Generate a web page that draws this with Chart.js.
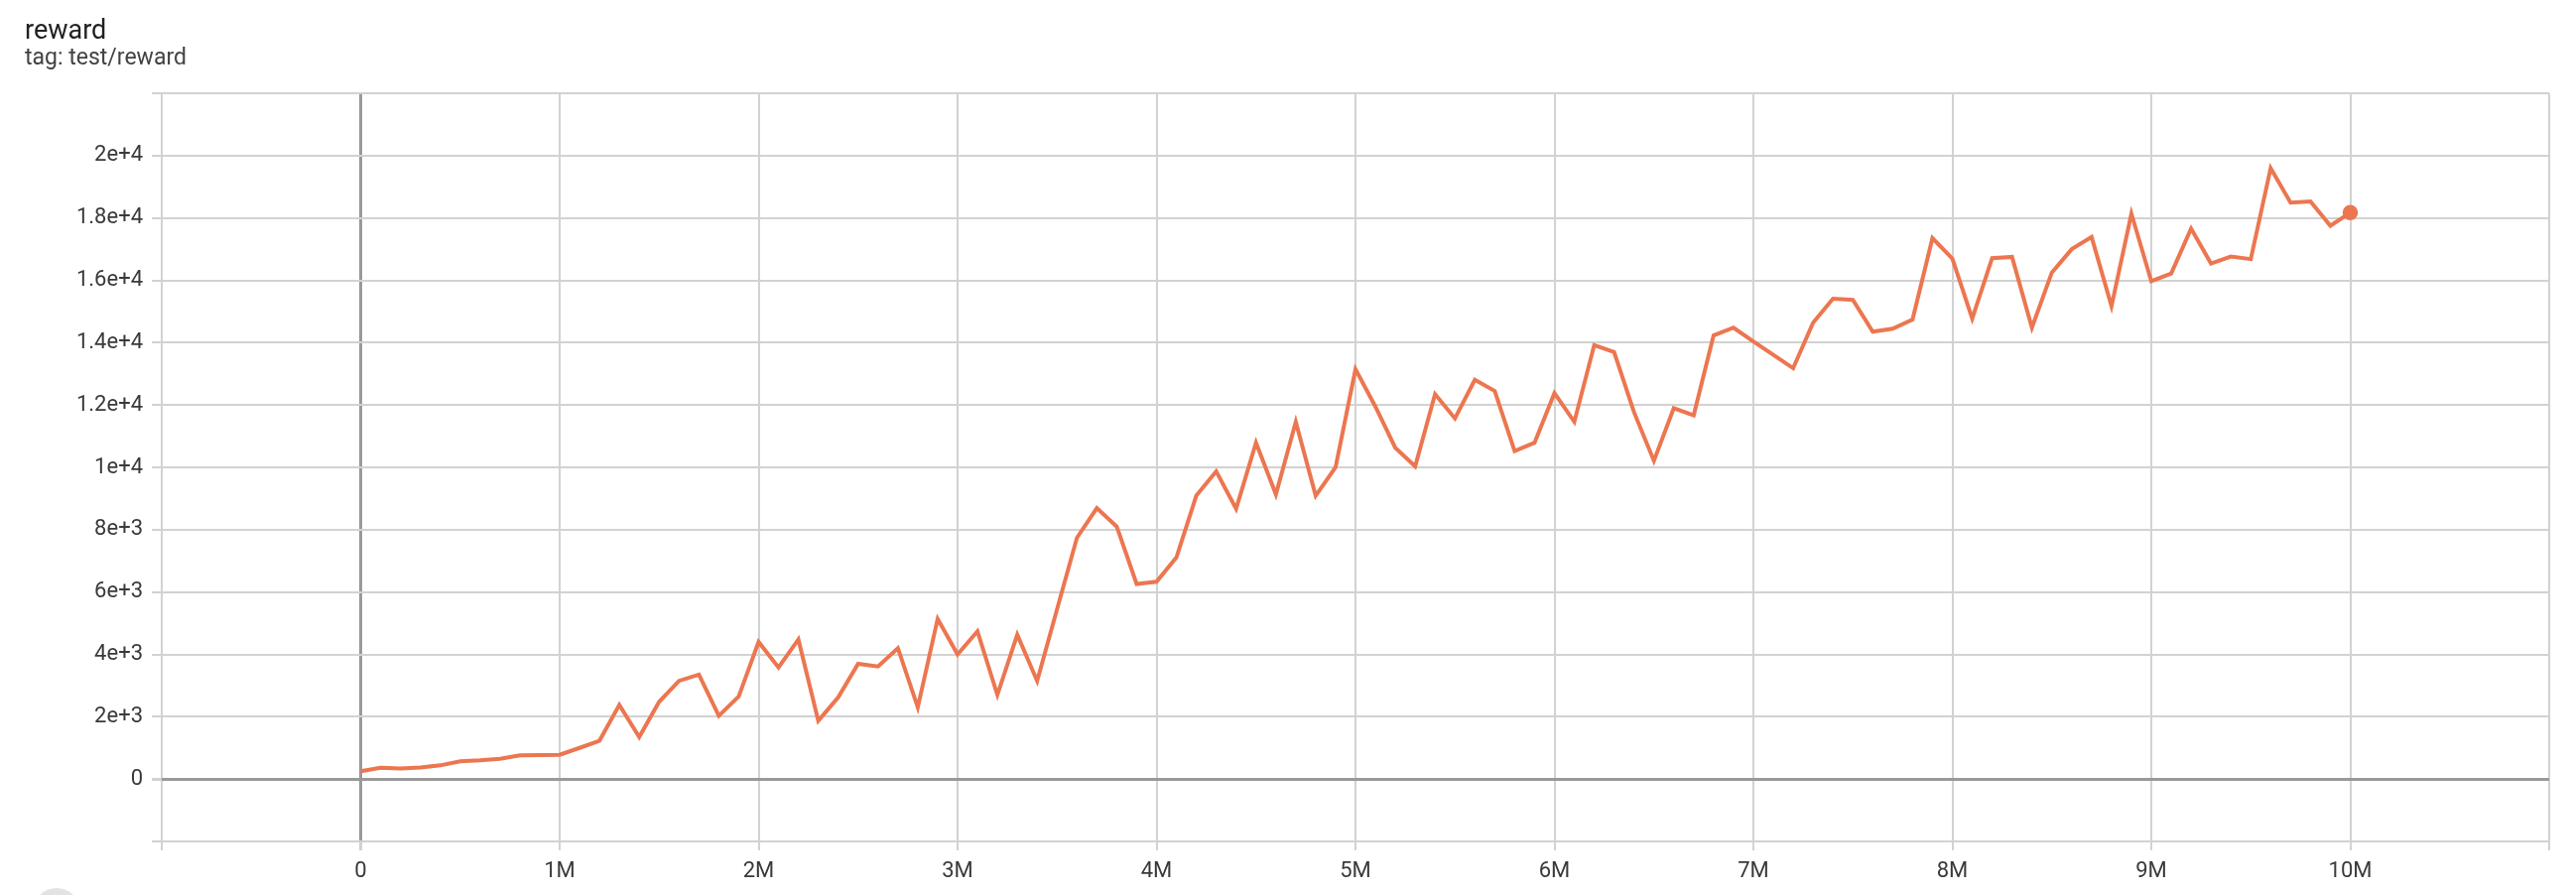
<!DOCTYPE html>
<html>
<head>
<meta charset="utf-8">
<title>reward</title>
<script src="https://cdn.jsdelivr.net/npm/chart.js@4.4.1/dist/chart.umd.min.js"></script>
<style>
  html, body { margin: 0; padding: 0; background: #fff; overflow: hidden; }
  #wrap { position: relative; width: 2596px; height: 902px; }
  #chart { position: absolute; left: 0; top: 0; }
  .title { position: absolute; left: 25px; top: 17px; font: 27px Roboto, sans-serif; line-height: 1; color: #212121; }
  .tag { position: absolute; left: 25px; top: 46px; font: 23px Roboto, sans-serif; line-height: 1; color: #424242; }
  .fab { position: absolute; left: 33px; top: 895px; width: 48px; height: 48px; border-radius: 50%; background: #e3e3e3; }
</style>
</head>
<body>
<div id="wrap">
  <canvas id="chart" width="2596" height="902"></canvas>
  <div class="title">reward</div>
  <div class="tag">tag: test/reward</div>
  <div class="fab"></div>
</div>
<script>
// training steps, in thousands
const steps = [
  0, 100, 200, 300, 400, 500, 600, 700, 800, 900,
  1000, 1100, 1200, 1300, 1400, 1500, 1600, 1700, 1800, 1900,
  2000, 2100, 2200, 2300, 2400, 2500, 2600, 2700, 2800, 2900,
  3000, 3100, 3200, 3300, 3400, 3500, 3600, 3700, 3800, 3900,
  4000, 4100, 4200, 4300, 4400, 4500, 4600, 4700, 4800, 4900,
  5000, 5100, 5200, 5300, 5400, 5500, 5600, 5700, 5800, 5900,
  6000, 6100, 6200, 6300, 6400, 6500, 6600, 6700, 6800, 6900,
  7000, 7100, 7200, 7300, 7400, 7500, 7600, 7700, 7800, 7900,
  8000, 8100, 8200, 8300, 8400, 8500, 8600, 8700, 8800, 8900,
  9000, 9100, 9200, 9300, 9400, 9500, 9600, 9700, 9800, 9900,
  10000
];

// test/reward values
const reward = [
  250, 360, 340, 370, 440, 570, 600, 650, 760, 770,
  780, 1000, 1230, 2380, 1350, 2480, 3150, 3350, 2030, 2650,
  4400, 3580, 4480, 1870, 2620, 3700, 3610, 4200, 2300, 5140,
  4000, 4740, 2700, 4630, 3150, 5450, 7740, 8690, 8100, 6260,
  6330, 7110, 9090, 9870, 8670, 10790, 9130, 11460, 9090, 10000,
  13150, 11950, 10630, 10030, 12350, 11570, 12810, 12450, 10520, 10790,
  12380, 11460, 13920, 13700, 11770, 10210, 11900, 11670, 14230, 14480,
  14040, 13610, 13180, 14640, 15410, 15370, 14350, 14450, 14740, 17350,
  16700, 14770, 16710, 16750, 14480, 16250, 17000, 17390, 15170, 18140,
  15970, 16220, 17660, 16540, 16760, 16680, 19600, 18490, 18530, 17750,
  18170
];

// axis ranges / tick spacing
const xRange = [-1000000, 11000000];
const xStep = 1000000;
const yRange = [-2000, 22000];
const yStep = 2000;

const lineColor = '#ec7650';
const gridColor = '#d2d2d2';
const zeroColor = '#999999';
const labelFont = { family: 'Roboto', size: 22 };

const points = steps.map((s, i) => ({ x: s * 1000, y: reward[i] }));
const lastIdx = points.length - 1;

function xLabel(v) {
  if (v <= xRange[0] || v >= xRange[1]) return '';
  if (v === 0) return '0';
  return (v / 1000000) + 'M';
}

function yLabel(v) {
  if (v <= yRange[0] || v >= yRange[1]) return '';
  if (v === 0) return '0';
  return Number(v).toExponential();
}

const ctx = document.getElementById('chart').getContext('2d');
new Chart(ctx, {
  type: 'line',
  data: {
    datasets: [{
      label: 'test/reward',
      data: points,
      borderColor: lineColor,
      backgroundColor: lineColor,
      borderWidth: 4,
      tension: 0,
      fill: false,
      pointRadius: c => c.dataIndex === lastIdx ? 7 : 0,
      pointHoverRadius: 0,
      pointBorderWidth: 1.5,
      pointBackgroundColor: lineColor,
      pointBorderColor: lineColor
    }]
  },
  options: {
    responsive: false,
    animation: false,
    events: [],
    layout: { padding: { top: 94, right: 27, left: 0, bottom: 0 } },
    plugins: {
      legend: { display: false },
      tooltip: { enabled: false }
    },
    scales: {
      x: {
        type: 'linear',
        min: xRange[0],
        max: xRange[1],
        afterFit: s => { s.height = 54; },
        border: { display: false },
        grid: {
          color: c => c.tick && c.tick.value === 0 ? zeroColor : gridColor,
          lineWidth: c => c.tick && c.tick.value === 0 ? 3 : 2,
          tickColor: gridColor,
          tickLength: 9
        },
        ticks: {
          stepSize: xStep,
          autoSkip: false,
          maxRotation: 0,
          padding: 8,
          color: '#3a3a3a',
          font: labelFont,
          callback: xLabel
        }
      },
      y: {
        type: 'linear',
        min: yRange[0],
        max: yRange[1],
        afterFit: s => { s.width = 163; },
        border: { display: false },
        grid: {
          color: c => c.tick && c.tick.value === 0 ? zeroColor : gridColor,
          lineWidth: c => c.tick && c.tick.value === 0 ? 3 : 2,
          tickColor: gridColor,
          tickLength: 10
        },
        ticks: {
          stepSize: yStep,
          padding: 9,
          color: '#3a3a3a',
          font: labelFont,
          callback: yLabel
        }
      }
    }
  }
});
</script>
</body>
</html>
